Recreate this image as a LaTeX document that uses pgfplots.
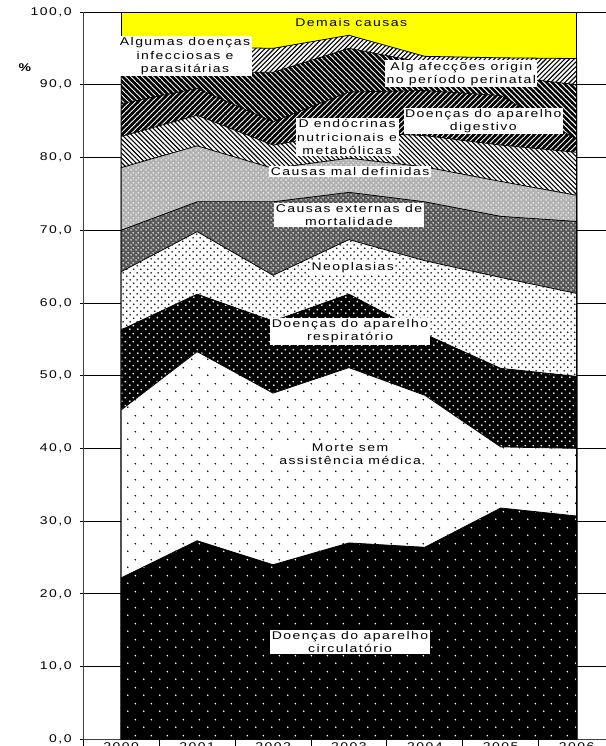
\documentclass[border=0pt]{standalone}
\usepackage{pgfplots}
\usepackage{pgfplotstable}
\pgfplotsset{compat=1.18}
\usepackage{fontspec}
\setmainfont{Liberation Sans}[FakeStretch=1.25, LetterSpace=13]
\usetikzlibrary{patterns}

% patterns, 1 px of the reference = 1 pt
\pgfdeclarepatternformonly{sdots}{\pgfqpoint{0pt}{0pt}}{\pgfqpoint{15.5pt}{15.5pt}}{\pgfqpoint{15.5pt}{15.5pt}}{
  \pgfpathcircle{\pgfqpoint{3.9pt}{3.9pt}}{0.9pt}
  \pgfpathcircle{\pgfqpoint{11.65pt}{11.65pt}}{0.9pt}
  \pgfusepath{fill}}
\pgfdeclarepatternformonly{ddots}{\pgfqpoint{0pt}{0pt}}{\pgfqpoint{7.4pt}{7.4pt}}{\pgfqpoint{7.4pt}{7.4pt}}{
  \pgfpathcircle{\pgfqpoint{1.85pt}{1.85pt}}{0.95pt}
  \pgfpathcircle{\pgfqpoint{5.55pt}{5.55pt}}{0.95pt}
  \pgfusepath{fill}}
\pgfdeclarepatternformonly{rdots}{\pgfqpoint{0pt}{0pt}}{\pgfqpoint{8pt}{8pt}}{\pgfqpoint{8pt}{8pt}}{
  \pgfpathcircle{\pgfqpoint{2pt}{2pt}}{1.1pt}
  \pgfpathcircle{\pgfqpoint{6pt}{6pt}}{1.1pt}
  \pgfusepath{fill}}
\pgfdeclarepatternformonly{xdots}{\pgfqpoint{0pt}{0pt}}{\pgfqpoint{5pt}{5pt}}{\pgfqpoint{5pt}{5pt}}{
  \pgfpathcircle{\pgfqpoint{1.25pt}{1.25pt}}{0.9pt}
  \pgfpathcircle{\pgfqpoint{3.75pt}{3.75pt}}{0.9pt}
  \pgfusepath{fill}}
% hatching: / and \ lines
\pgfdeclarepatternformonly{lightne}{\pgfqpoint{-1pt}{-1pt}}{\pgfqpoint{5.7pt}{5.7pt}}{\pgfqpoint{4.7pt}{4.7pt}}{
  \pgfsetlinewidth{1.1pt}
  \pgfpathmoveto{\pgfqpoint{0pt}{0pt}}\pgfpathlineto{\pgfqpoint{4.8pt}{4.8pt}}
  \pgfusepath{stroke}}
\pgfdeclarepatternformonly{lightnw}{\pgfqpoint{-1pt}{-1pt}}{\pgfqpoint{5.7pt}{5.7pt}}{\pgfqpoint{4.7pt}{4.7pt}}{
  \pgfsetlinewidth{1.1pt}
  \pgfpathmoveto{\pgfqpoint{0pt}{4.7pt}}\pgfpathlineto{\pgfqpoint{4.8pt}{-0.1pt}}
  \pgfusepath{stroke}}
\pgfdeclarepatternformonly{heavyne}{\pgfqpoint{-2pt}{-2pt}}{\pgfqpoint{7.5pt}{7.5pt}}{\pgfqpoint{5.5pt}{5.5pt}}{
  \pgfsetlinewidth{2.5pt}
  \pgfpathmoveto{\pgfqpoint{-0.5pt}{-0.5pt}}\pgfpathlineto{\pgfqpoint{6pt}{6pt}}
  \pgfusepath{stroke}}
\pgfdeclarepatternformonly{heavynw}{\pgfqpoint{-2pt}{-2pt}}{\pgfqpoint{7.5pt}{7.5pt}}{\pgfqpoint{5.5pt}{5.5pt}}{
  \pgfsetlinewidth{2.5pt}
  \pgfpathmoveto{\pgfqpoint{-0.5pt}{6pt}}\pgfpathlineto{\pgfqpoint{6pt}{-0.5pt}}
  \pgfusepath{stroke}}

\definecolor{demais}{HTML}{FFFF00}

% cumulative tops of the stacked areas (%)
\pgfplotstableread{
year circ morte resp neo ext mal endo dig infec perin demais
0 22.2 45.3 56.3 64.3 70.0 78.6 82.9 87.4 91.3 95.5 100
1 27.3 53.3 61.2 69.8 73.9 81.6 85.8 89.5 91.8 95.2 100
2 24.0 47.6 57.5 63.8 73.9 78.5 81.7 84.9 91.7 95.0 100
3 27.0 51.1 61.2 68.7 75.2 79.9 83.5 89.0 95.0 96.8 100
4 26.4 47.3 55.7 65.8 73.9 78.7 83.0 89.2 93.0 93.9 100
5 31.8 40.2 51.0 63.5 71.9 76.7 81.7 88.5 91.2 93.7 100
6 30.7 40.0 49.9 61.3 71.2 74.8 80.7 82.5 90.0 93.6 100
}\cum

\begin{document}
\begin{tikzpicture}
\fontsize{11.2}{13.3}\selectfont
\begin{axis}[
    at={(0,0)}, anchor=south west,
    scale only axis,
    width=531.3pt, height=727.3pt,
    xmin=-0.5, xmax=6.5,
    ymin=0, ymax=100,
    axis x line*=bottom, axis y line*=left,
    axis line style={-, line width=0.9pt, black!75},
    xtick={0,...,6},
    xticklabels={2000,2001,2002,2003,2004,2005,2006},
    major x tick style={draw=none},
    minor xtick={-0.5,0.5,...,6.5},
    minor tick length=7pt,
    tick align=outside,
    ytick={0,10,...,100},
    major tick length=3.5pt,
    ymajorgrids,
    major grid style={black, line width=0.8pt},
    tick style={black, line width=0.8pt},
    /pgf/number format/assume math mode=true,
    /pgf/number format/fixed,
    /pgf/number format/fixed zerofill,
    /pgf/number format/precision=1,
    /pgf/number format/use comma,
    yticklabel style={inner sep=0pt, anchor=east, xshift=-8pt},
    xticklabel style={inner sep=0pt, anchor=north, yshift=0pt},
    clip=false,
    base/.style={draw=none, forget plot},
    layer/.style={draw=black, line width=0.8pt, forget plot},
  ]
  \addplot[layer, fill=demais] table[x=year, y=demais] {\cum} \closedcycle;
  \addplot[base, fill=white] table[x=year, y=perin] {\cum} \closedcycle;
  \addplot[layer, pattern=lightne, pattern color=black] table[x=year, y=perin] {\cum} \closedcycle;
  \addplot[base, fill=white] table[x=year, y=infec] {\cum} \closedcycle;
  \addplot[layer, pattern=heavynw, pattern color=black] table[x=year, y=infec] {\cum} \closedcycle;
  \addplot[base, fill=white] table[x=year, y=dig] {\cum} \closedcycle;
  \addplot[layer, pattern=heavyne, pattern color=black] table[x=year, y=dig] {\cum} \closedcycle;
  \addplot[base, fill=white] table[x=year, y=endo] {\cum} \closedcycle;
  \addplot[layer, pattern=lightnw, pattern color=black] table[x=year, y=endo] {\cum} \closedcycle;
  \addplot[base, fill=black!30] table[x=year, y=mal] {\cum} \closedcycle;
  \addplot[layer, pattern=xdots, pattern color=white] table[x=year, y=mal] {\cum} \closedcycle;
  \addplot[base, fill=black!65] table[x=year, y=ext] {\cum} \closedcycle;
  \addplot[layer, pattern=xdots, pattern color=white] table[x=year, y=ext] {\cum} \closedcycle;
  \addplot[base, fill=white] table[x=year, y=neo] {\cum} \closedcycle;
  \addplot[layer, pattern=ddots, pattern color=black] table[x=year, y=neo] {\cum} \closedcycle;
  \addplot[base, fill=black] table[x=year, y=resp] {\cum} \closedcycle;
  \addplot[layer, pattern=rdots, pattern color=white] table[x=year, y=resp] {\cum} \closedcycle;
  \addplot[base, fill=white] table[x=year, y=morte] {\cum} \closedcycle;
  \addplot[layer, pattern=sdots, pattern color=black] table[x=year, y=morte] {\cum} \closedcycle;
  \addplot[base, fill=black] table[x=year, y=circ] {\cum} \closedcycle;
  \addplot[layer, pattern=sdots, pattern color=white] table[x=year, y=circ] {\cum} \closedcycle;

  \node[align=center] at (axis cs:3.03,98.6) {Demais causas};
  \node[fill=white, inner sep=1.5pt, align=center] at (axis cs:0.84,93.9) {Algumas doenças\\infecciosas e\\parasitárias};
  \node[fill=white, inner sep=1.5pt, align=center] at (axis cs:4.48,91.5) {Alg afecções origin\\no período perinatal};
  \node[fill=white, inner sep=1.5pt, align=center] at (axis cs:4.77,85.0) {Doenças do aparelho\\digestivo};
  \node[fill=white, inner sep=1.5pt, align=center] at (axis cs:2.975,82.8) {D endócrinas\\nutricionais e\\metabólicas};
  \node[fill=white, inner sep=1.5pt, align=center] at (axis cs:3.015,78.1) {Causas mal definidas};
  \node[fill=white, inner sep=1.5pt, align=center] at (axis cs:3.0,72.1) {Causas externas de\\mortalidade};
  \node[fill=white, inner sep=1.5pt, align=center] at (axis cs:3.05,64.8) {Neoplasias};
  \node[fill=white, inner sep=1.5pt, align=center] at (axis cs:3.015,56.1) {Doenças do aparelho\\respiratório};
  \node[fill=white, inner sep=1.5pt, align=center] at (axis cs:3.015,39.2) {Morte sem\\assistência médica};
  \node[fill=white, inner sep=1.5pt, align=center] at (axis cs:3.015,13.4) {Doenças do aparelho\\circulatório};
  \node[font=\bfseries] at (axis cs:-1.27,92.4) {\%};
\end{axis}
\pgfresetboundingbox
\path[use as bounding box] (-83.3pt,-6.7pt) rectangle (521.7pt,739.3pt);
\end{tikzpicture}
\end{document}
